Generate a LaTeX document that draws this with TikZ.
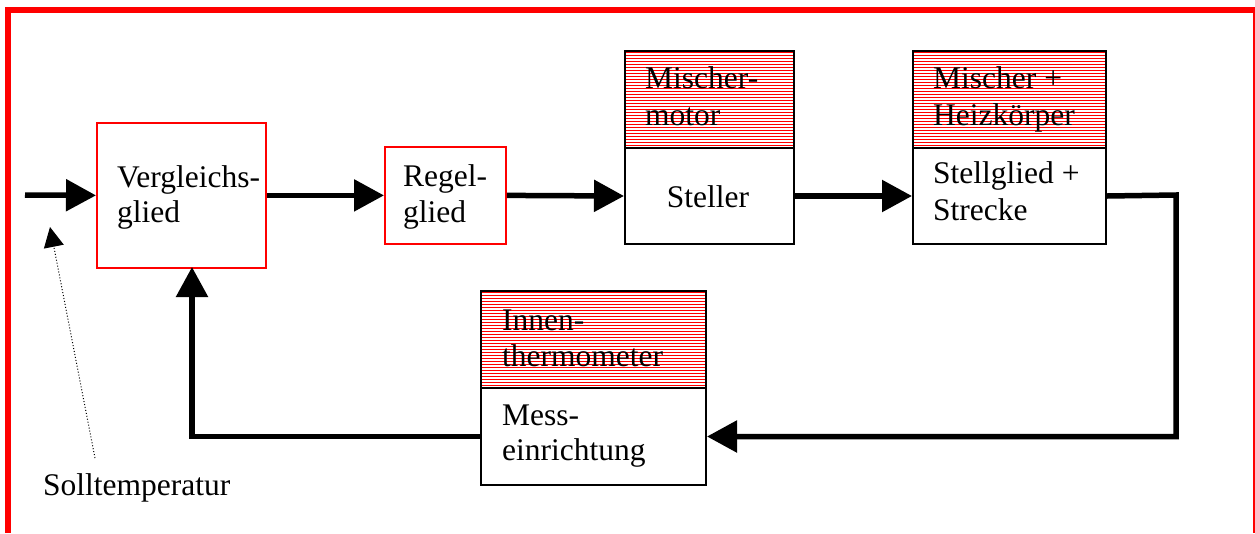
\documentclass[tikz,border=0pt]{standalone}
\usepackage{fontspec}
\setmainfont{Liberation Serif}
\usetikzlibrary{arrows.meta,calc}
\begin{document}
\begin{tikzpicture}[x=1pt,y=-1pt,
  txt/.style={anchor=base west, inner sep=0pt, font=\fontsize{31.5}{36}\selectfont},
  redbox/.style={draw=red, line width=1.8pt, anchor=north west, inner sep=0pt, fill=white},
  blkbox/.style={draw=black, line width=2pt, anchor=north west, inner sep=0pt, fill=white},
  hatchbox/.style={blkbox, path picture={
      \foreach \k in {0,...,40}
        \draw[red, line width=1.3pt]
          ([yshift=-\k*3pt-1.5pt]path picture bounding box.north west) --
          ([yshift=-\k*3pt-1.5pt]path picture bounding box.north east);}},
  conn/.style={line width=5.5pt, line join=miter, -{Triangle[length=30pt,width=31pt]}},
  sollarrow/.style={dotted, line width=1pt, -{Triangle[length=20pt,width=20pt]}},
]
\useasboundingbox (0,0) rectangle (1255,533);
% frame
\draw[red, line width=6pt] (5,10) -- (1255,10);
\draw[red, line width=6pt] (8,7) -- (8,533);
\draw[red, line width=1.5pt] (1254,10) -- (1254,533);

% boxes
\node[redbox, minimum width=169pt, minimum height=145pt] (vg) at (96,122) {};
\node[redbox, minimum width=121pt, minimum height=97pt] (rg) at (384,146) {};
\node[hatchbox, minimum width=169pt, minimum height=97pt] (mm) at (624,50) {};
\node[blkbox, minimum width=169pt, minimum height=96pt] (st) at (624,147) {};
\node[hatchbox, minimum width=193pt, minimum height=97pt] (mh) at (912,50) {};
\node[blkbox, minimum width=193pt, minimum height=96pt] (sg) at (912,147) {};
\node[hatchbox, minimum width=225pt, minimum height=97pt] (it) at (480,290) {};
\node[blkbox, minimum width=225pt, minimum height=97pt] (me) at (480,387) {};

% texts
\node[txt] (t1) at (117,187) {Vergleichs-};
\node[txt] (t2) at (117,222) {glied};
\node[txt] (t3) at (403,186) {Regel-};
\node[txt] (t4) at (403,222) {glied};
\node[txt] (t5) at (645,88) {Mischer-};
\node[txt] (t6) at (645,125) {motor};
\node[txt, anchor=base] (t7) at (708,207) {Steller};
\node[txt] (t8) at (933,88) {Mischer +};
\node[txt] (t9) at (933,125) {Heizkörper};
\node[txt] (t10) at (933,183) {Stellglied +};
\node[txt] (t11) at (933,220) {Strecke};
\node[txt] (t12) at (502,330) {Innen-};
\node[txt] (t13) at (502,366) {thermometer};
\node[txt] (t14) at (502,425) {Mess-};
\node[txt] (t15) at (502,460) {einrichtung};
\node[txt] (soll) at (43,495) {Solltemperatur};

% connectors
\coordinate (in) at (25,195);
\coordinate (c1) at (1176,195);
\coordinate (fb) at (192,267);
\coordinate (dS) at (95,458);
\coordinate (dT) at (50,227);
\draw[conn] (in) -- (vg.west);
\draw[conn] (vg.east) -- (rg.west);
\draw[conn] (rg.east) -- (st.west);
\draw[conn] (st.east) -- (sg.west);
\draw[conn] (sg.east) -- (c1) |- (me.east);
\draw[conn] (me.west) -| (fb);
\draw[sollarrow] (dS) -- (dT);
\end{tikzpicture}
\end{document}
